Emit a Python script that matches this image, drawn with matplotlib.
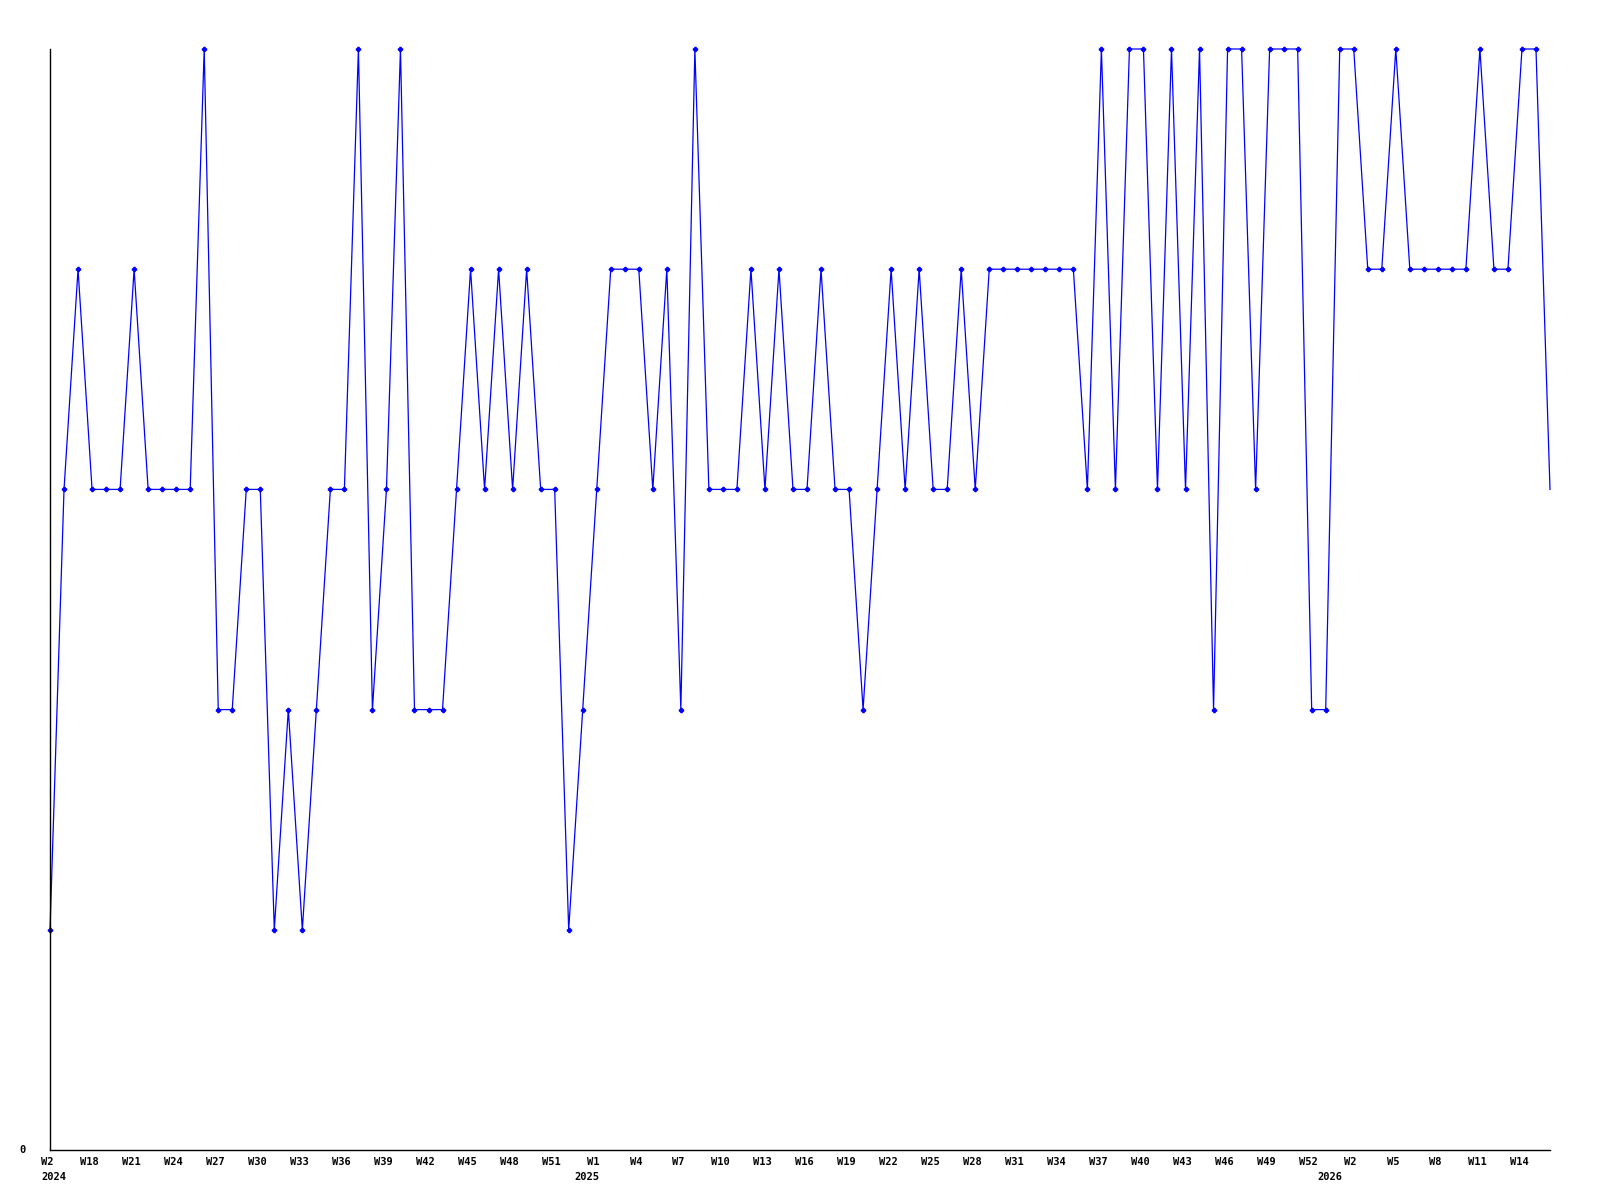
import matplotlib
matplotlib.use('Agg')
import matplotlib.pyplot as plt
import numpy as np

# weekly values, one per week
values = [1, 3, 4, 3, 3, 3, 4, 3, 3, 3,
          3, 5, 2, 2, 3, 3, 1, 2, 1, 2,
          3, 3, 5, 2, 3, 5, 2, 2, 2, 3,
          4, 3, 4, 3, 4, 3, 3, 1, 2, 3,
          4, 4, 4, 3, 4, 2, 5, 3, 3, 3,
          4, 3, 4, 3, 3, 4, 3, 3, 2, 3,
          4, 3, 4, 3, 3, 4, 3, 4, 4, 4,
          4, 4, 4, 4, 3, 5, 3, 5, 5, 3,
          5, 3, 5, 2, 5, 5, 3, 5, 5, 5,
          2, 2, 5, 5, 4, 4, 5, 4, 4, 4,
          4, 4, 5, 4, 4, 5, 5, 3]

tick_pos = [0] + list(range(3, 106, 3))
tick_labels = ['W2', 'W18', 'W21', 'W24', 'W27', 'W30', 'W33', 'W36', 'W39',
               'W42', 'W45', 'W48', 'W51', 'W1', 'W4', 'W7', 'W10', 'W13',
               'W16', 'W19', 'W22', 'W25', 'W28', 'W31', 'W34', 'W37', 'W40',
               'W43', 'W46', 'W49', 'W52', 'W2', 'W5', 'W8', 'W11', 'W14']
year_pos = [0, 38, 91]
year_labels = ['2024', '2025', '2026']

font = {'family': 'DejaVu Sans Mono', 'weight': 'bold', 'size': 7.5}

fig = plt.figure(figsize=(16, 12), dpi=100)
ax = fig.add_axes([50 / 1600, 1 - 1150 / 1200, 1500 / 1600, 1101 / 1200])

x = np.arange(len(values))
ax.plot(x, values, color='#0000ff', lw=0.9, marker='P', ms=3,
        markevery=list(range(len(values) - 1)), clip_on=False)

ax.set_xlim(0, len(values) - 1)
ax.set_ylim(0, 5)
ax.spines['top'].set_visible(False)
ax.spines['right'].set_visible(False)
ax.spines['left'].set_linewidth(1)
ax.spines['bottom'].set_linewidth(1)

ax.set_xticks([])
ax.set_yticks([])
ax.annotate('0', xy=(0, 0), xycoords='axes fraction', xytext=(-28, 0),
            textcoords='offset pixels', ha='center', va='center', **font)

for p, lab in zip(tick_pos, tick_labels):
    ax.annotate(lab, xy=(p, 0), xycoords=('data', 'axes fraction'),
                xytext=(-3, -12), textcoords='offset pixels',
                ha='center', va='center', **font)

for p, lab in zip(year_pos, year_labels):
    ax.annotate(lab, xy=(p, 0), xycoords=('data', 'axes fraction'),
                xytext=(4, -27), textcoords='offset pixels',
                ha='center', va='center', **font)

fig.savefig('out.png', dpi=100)
